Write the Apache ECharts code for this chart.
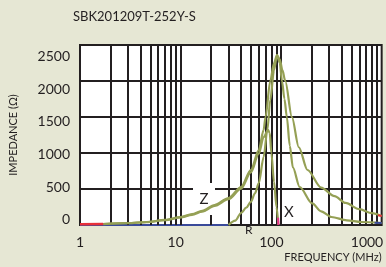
<!DOCTYPE html>
<html>
<head>
    <meta charset="utf-8">
    <title>SBK201209T-252Y-S</title>
    <script src="https://cdn.jsdelivr.net/npm/echarts@6/dist/echarts.min.js"></script>
    <style>
        html, body { margin: 0; padding: 0; background: #E6E7D4; }
        #chart { width: 386px; height: 267px; }
    </style>
</head>
<body>
<div id="chart"></div>
<script>
    // Z / R / X curves, frequency in MHz, impedance in ohm
    var zFreq = [1.7, 3, 4.6, 7, 10, 13, 16.4, 21.8, 30, 40, 50, 60, 67, 70, 78, 85, 91, 97, 103, 110, 128, 150, 183, 250, 340, 438, 600, 800, 1000];
    var zVals = [14, 28, 42, 70, 110, 150, 195, 278, 375, 528, 764, 1042, 1320, 1500, 2000, 2250, 2360, 2300, 2150, 2000, 1500, 1080, 764, 520, 400, 306, 220, 165, 125];

    var rFreq = [30, 35, 40, 45, 50, 55, 60, 67, 73, 78, 85, 91, 97, 102, 108, 114, 122, 131, 153, 204, 250, 317, 450, 625, 1000];
    var rVals = [0, 60, 167, 240, 320, 440, 583, 944, 1320, 1736, 2150, 2360, 2250, 2000, 1750, 1500, 1100, 800, 528, 300, 190, 111, 65, 42, 28];

    var xFreq = [1.7, 3, 4.6, 7, 10, 13, 16.4, 21.8, 30, 40, 50, 60, 67, 74, 77, 80, 85, 90, 94];
    var xVals = [12, 26, 40, 66, 104, 142, 185, 265, 358, 505, 730, 990, 1220, 1320, 1280, 1000, 600, 250, 0];

    // short coloured pieces left visible at the ends
    var zLowFreq = [1, 1.7];
    var zLowVals = [10, 14];
    var zEndFreq = [920, 1000];
    var zEndVals = [134, 125];
    var rLowFreq = [1, 30];
    var rLowVals = [0, 0];
    var rEndFreq = [850, 1000];
    var rEndVals = [31, 28];
    var xZeroFreq = [93.4, 94];
    var xZeroVals = [100, 0];

    // labels Z, R, X  [freq, value]
    var zLabel = [17.1, 361];
    var rLabel = [47.8, -70];
    var xLabel = [119.6, 180];

    // vertical grid lines (MHz)
    var gridFreq = [2, 3, 4, 5, 6, 7, 8, 9, 10, 20, 30, 40, 50, 60, 70, 80, 90, 100, 200, 300, 400, 500, 600, 700, 800, 900];

    var yTicks = [0, 500, 1000, 1500, 2000, 2500];
    var xTicks = [1, 10, 100, 1000];

    var ink = '#231F20';
    var olive = '#95A055';
    var font = 'Lato';

    function pairs(f, v) {
        return f.map(function (x, i) { return [x, v[i]]; });
    }

    function textMark(name, coord, size, boxed) {
        return {
            name: name,
            coord: coord,
            symbol: 'rect',
            symbolSize: boxed ? [22, 32] : [1, 1],
            itemStyle: { color: boxed ? '#ffffff' : 'rgba(0,0,0,0)' },
            label: {
                show: true, position: 'inside', formatter: name,
                color: ink, fontFamily: font, fontSize: size
            }
        };
    }

    var myChart = echarts.init(document.getElementById('chart'));

    myChart.setOption({
        animation: false,
        backgroundColor: '#E6E7D4',
        title: {
            text: 'SBK201209T-252Y-S',
            left: 73, top: 10, padding: 0,
            textStyle: { color: ink, fontFamily: font, fontSize: 13, fontWeight: 'normal' }
        },
        grid: {
            left: 75, right: 2, top: 45, bottom: 42,
            show: true, backgroundColor: '#ffffff',
            borderColor: ink, borderWidth: 2
        },
        xAxis: [{
            type: 'log', logBase: 10, min: 1, max: 1000,
            axisLine: { show: false }, axisTick: { show: false },
            axisLabel: { show: false }, splitLine: { show: false },
            name: 'FREQUENCY (MHz)', nameLocation: 'end', nameGap: 0,
            nameTextStyle: {
                color: ink, fontFamily: font, fontSize: 11,
                align: 'right', verticalAlign: 'top', padding: [27, 0, 0, 0]
            }
        }, {
            // label axis, its decades sit a bit tighter than the grid
            type: 'log', logBase: 10, min: 1, max: 1423, splitNumber: 3,
            position: 'bottom',
            axisLine: { show: false }, axisTick: { show: false }, splitLine: { show: false },
            axisLabel: {
                color: ink, fontFamily: font, fontSize: 14, margin: 10,
                showMinLabel: true, showMaxLabel: false,
                formatter: function (v) {
                    var e = Math.round(Math.log10(v));
                    if (Math.abs(Math.log10(v) - e) > 1e-6) return '';
                    var t = Math.pow(10, e);
                    return xTicks.indexOf(t) >= 0 ? String(t) : '';
                }
            }
        }],
        yAxis: [{
            type: 'value', min: 0, max: 2500, interval: 500,
            axisLine: { show: false }, axisTick: { show: false },
            axisLabel: { show: false },
            splitLine: { show: true, lineStyle: { color: ink, width: 2 } },
            name: 'IMPEDANCE (Ω)', nameLocation: 'middle', nameGap: 61,
            nameTextStyle: { color: ink, fontFamily: font, fontSize: 11 }
        }, {
            // label axis: 0 sits a little above the bottom line
            type: 'value', min: -80, max: 2680, interval: 20,
            position: 'left',
            axisLine: { show: false }, axisTick: { show: false }, splitLine: { show: false },
            axisLabel: {
                color: ink, fontFamily: font, fontSize: 14, margin: 10,
                formatter: function (v) {
                    return yTicks.indexOf(Math.round(v)) >= 0 ? String(Math.round(v)) : '';
                }
            }
        }],
        series: [{
            // grid lines
            type: 'line', z: 1, data: [], silent: true,
            markLine: {
                silent: true, animation: false,
                symbol: ['none', 'none'],
                label: { show: false },
                lineStyle: { color: ink, width: 2, type: 'solid' },
                data: gridFreq.map(function (f) { return { xAxis: f }; })
            }
        }, {
            // text marks inside the grid
            type: 'line', z: 3, data: [], silent: true,
            markPoint: {
                silent: true, animation: false,
                data: [
                    textMark('Z', zLabel, 15, true),
                    textMark('X', xLabel, 15, false)
                ]
            }
        }, {
            name: 'Z', type: 'line', z: 5, data: pairs(zFreq, zVals),
            smooth: 0.3, smoothMonotone: 'x', showSymbol: false,
            lineStyle: { color: olive, width: 2.2 }
        }, {
            name: 'R', type: 'line', z: 5, data: pairs(rFreq, rVals),
            smooth: 0.3, smoothMonotone: 'x', showSymbol: false,
            lineStyle: { color: olive, width: 2.2 }
        }, {
            name: 'X', type: 'line', z: 5, data: pairs(xFreq, xVals),
            smooth: 0.3, smoothMonotone: 'x', showSymbol: false,
            lineStyle: { color: olive, width: 2.2 }
        }, {
            type: 'line', z: 6, data: pairs(zLowFreq, zLowVals), showSymbol: false,
            lineStyle: { color: '#E8303A', width: 2.5 }
        }, {
            type: 'line', z: 6, data: pairs(zEndFreq, zEndVals), showSymbol: false,
            lineStyle: { color: '#E8303A', width: 2 }
        }, {
            type: 'line', z: 4, data: pairs(rLowFreq, rLowVals), showSymbol: false,
            lineStyle: { color: '#3A4A9A', width: 2 }
        }, {
            type: 'line', z: 6, data: pairs(rEndFreq, rEndVals), showSymbol: false,
            lineStyle: { color: '#3A4A9A', width: 2 }
        }, {
            type: 'line', z: 6, data: pairs(xZeroFreq, xZeroVals), showSymbol: false,
            lineStyle: { color: '#E8308A', width: 2 }
        }]
    });

    // "R" sits below the plot, outside the grid, so place it through the axes
    var rPos = myChart.convertToPixel({ xAxisIndex: 0, yAxisIndex: 0 }, rLabel);
    myChart.setOption({
        graphic: [{
            type: 'text', x: rPos[0], y: rPos[1], z: 10,
            style: {
                text: 'R', fill: ink, fontFamily: font, fontSize: 12,
                align: 'center', verticalAlign: 'middle'
            }
        }]
    });
</script>
</body>
</html>
